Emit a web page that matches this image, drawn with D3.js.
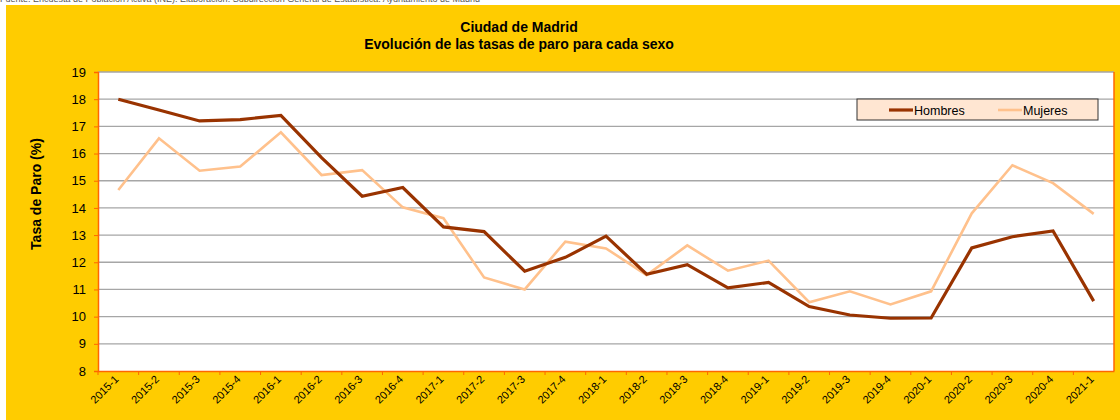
<!DOCTYPE html>
<html>
<head>
<meta charset="utf-8">
<script src="https://cdn.jsdelivr.net/npm/d3@7"></script>
<style>
  html, body { margin: 0; padding: 0; background: #fff; }
  svg { display: block; font-family: "Liberation Sans", Arial, sans-serif; }
</style>
</head>
<body>
<svg id="chart"></svg>
<script>
// periodos (trimestres)
var periods = ["2015-1", "2015-2", "2015-3", "2015-4", "2016-1", "2016-2", "2016-3", "2016-4",
    "2017-1", "2017-2", "2017-3", "2017-4", "2018-1", "2018-2", "2018-3", "2018-4",
    "2019-1", "2019-2", "2019-3", "2019-4", "2020-1", "2020-2", "2020-3", "2020-4", "2021-1"];

var hombres = [18.0, 17.6, 17.2, 17.25, 17.4, 15.85, 14.43, 14.75, 13.3, 13.13, 11.67, 12.18,
    12.96, 11.56, 11.91, 11.06, 11.26, 10.37, 10.06, 9.94, 9.95, 12.53, 12.94, 13.15, 10.57];

var mujeres = [14.66, 16.56, 15.37, 15.52, 16.78, 15.21, 15.39, 14.02, 13.62, 11.44, 11.0, 12.76,
    12.51, 11.53, 12.62, 11.69, 12.06, 10.53, 10.93, 10.45, 10.93, 13.8, 15.57, 14.91, 13.78];

var yTicks = [8, 9, 10, 11, 12, 13, 14, 15, 16, 17, 18, 19];

var seriesNames = ["Hombres", "Mujeres"];
var seriesColors = ["#993300", "#FFC18C"];

var W = 1120, H = 420;
var margin = { top: 72, right: 6, bottom: 49, left: 98 },
    width = 1114 - margin.left,
    height = 371 - margin.top;

var svg = d3.select("#chart").attr("width", W).attr("height", H);

// fuente (cortada arriba, como en el original)
svg.append("text")
    .attr("x", 0).attr("y", 2)
    .attr("font-size", 9).attr("fill", "#555")
    .text("Fuente: Encuesta de Población Activa (INE). Elaboración: Subdirección General de Estadística. Ayuntamiento de Madrid");

// fondo amarillo
svg.append("rect")
    .attr("x", 6).attr("y", 5)
    .attr("width", 1114).attr("height", 415)
    .attr("fill", "#FFCC00");

// titulo
var title = svg.append("text")
    .attr("text-anchor", "middle")
    .attr("font-size", 14).attr("font-weight", "bold").attr("fill", "#000");
title.append("tspan").attr("x", 519).attr("y", 32).text("Ciudad de Madrid");
title.append("tspan").attr("x", 519).attr("y", 49).text("Evolución de las tasas de paro para cada sexo");

var g = svg.append("g")
    .attr("transform", "translate(" + margin.left + "," + margin.top + ")");

var xScale = d3.scaleBand()
    .domain(periods)
    .range([0, width])
    .padding(0);

var yScale = d3.scaleLinear()
    .domain([8, 19])
    .range([height, 0]);

// area del grafico
g.append("rect")
    .attr("width", width).attr("height", height)
    .attr("fill", "#fff");

// lineas de division
g.selectAll(".grid")
    .data(yTicks.slice(1))
    .enter()
    .append("line")
    .attr("x1", 0).attr("x2", width)
    .attr("y1", function (d) { return yScale(d); })
    .attr("y2", function (d) { return yScale(d); })
    .attr("stroke", "#A6A6A6")
    .attr("stroke-width", 1.3);

// borde derecho
g.append("line")
    .attr("x1", width).attr("x2", width)
    .attr("y1", 0).attr("y2", height)
    .attr("stroke", "#FF6600").attr("stroke-width", 1.5);

// eje Y
var axisY = g.append("g")
    .call(d3.axisLeft(yScale).tickValues(yTicks).tickSize(4).tickPadding(8));
axisY.select(".domain").attr("stroke", "#FF6600").attr("stroke-width", 1.5);
axisY.selectAll(".tick line").attr("stroke", "#FF6600");
axisY.selectAll(".tick text")
    .attr("font-size", 13).attr("fill", "#000")
    .attr("font-family", "Liberation Sans, Arial, sans-serif");

// eje X
var axisX = g.append("g")
    .attr("transform", "translate(0," + height + ")")
    .call(d3.axisBottom(xScale).tickSize(0).tickPadding(0));
axisX.select(".domain").attr("stroke", "#FF6600").attr("stroke-width", 1.5);
axisX.selectAll(".tick text")
    .attr("font-size", 11).attr("fill", "#000")
    .attr("font-family", "Liberation Sans, Arial, sans-serif")
    .attr("text-anchor", "end")
    .attr("dy", 0)
    .attr("transform", "translate(1,9) rotate(-45)");

// marcas entre categorias
axisX.selectAll(".sep")
    .data(periods)
    .enter()
    .append("line")
    .attr("x1", function (d) { return xScale(d); })
    .attr("x2", function (d) { return xScale(d); })
    .attr("y1", 0).attr("y2", 4)
    .attr("stroke", "#FF6600");

// titulo eje Y
svg.append("text")
    .attr("transform", "translate(41,194) rotate(-90)")
    .attr("text-anchor", "middle")
    .attr("font-size", 14).attr("font-weight", "bold")
    .text("Tasa de Paro (%)");

// lineas
var line = d3.line()
    .x(function (d, i) { return xScale(periods[i]) + xScale.bandwidth() / 2; })
    .y(function (d) { return yScale(d); });

[mujeres, hombres].forEach(function (values, k) {
    var idx = k === 0 ? 1 : 0;
    g.append("path")
        .datum(values)
        .attr("d", line)
        .attr("fill", "none")
        .attr("stroke", seriesColors[idx])
        .attr("stroke-width", idx === 0 ? 3.2 : 2.6)
        .attr("stroke-linejoin", "miter");
});

// leyenda
var legend = svg.append("g").attr("transform", "translate(857,99)");
legend.append("rect")
    .attr("width", 241).attr("height", 21)
    .attr("fill", "#FFE6D2")
    .attr("stroke", "#333").attr("stroke-width", 1);

var legendX = [32, 141];
seriesNames.forEach(function (name, i) {
    legend.append("line")
        .attr("x1", legendX[i]).attr("x2", legendX[i] + 24)
        .attr("y1", 11).attr("y2", 11)
        .attr("stroke", seriesColors[i])
        .attr("stroke-width", i === 0 ? 3.2 : 2.6);
    legend.append("text")
        .attr("x", legendX[i] + 25).attr("y", 15.5)
        .attr("font-size", 12.5).attr("fill", "#000")
        .text(name);
});
</script>
</body>
</html>
